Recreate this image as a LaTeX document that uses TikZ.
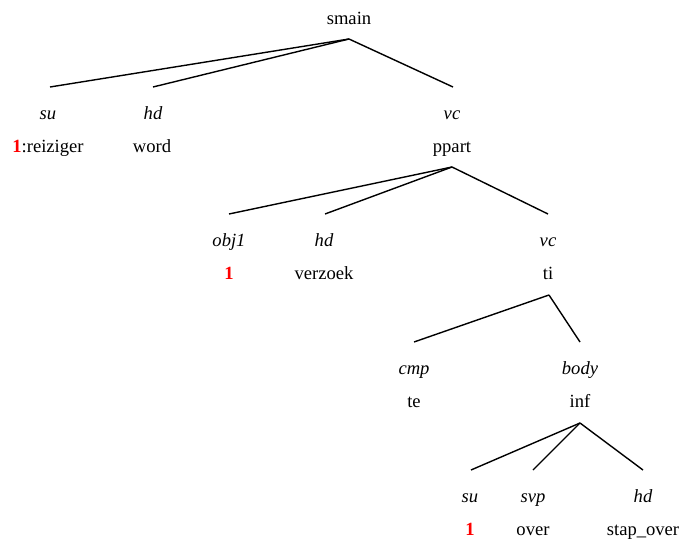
\documentclass[tikz,border=0pt]{standalone}
\usepackage{fontspec}
\setmainfont{Liberation Serif}
\newcommand{\coidx}[1]{\textcolor{red}{\textbf{#1}}}

\begin{document}
\begin{tikzpicture}[x=1pt, y=-1pt, line width=1.4pt,
    every node/.style={font=\fontsize{18.6}{21}\selectfont, inner sep=0pt, anchor=base},
    rel/.style={font=\fontsize{18.6}{21}\selectfont\itshape}]
  \useasboundingbox (0,0) rectangle (681,541);
  % top: smain
  \node (smain) at (349,24) {smain};
  \coordinate (smain-j) at (349,39);
  \coordinate (su-e) at (50,87);
  \coordinate (hd-e) at (153,87);
  \coordinate (vc-e) at (453,87);
  \node[rel] (su) at (48,119) {su};
  \node[rel] (hd) at (153,119) {hd};
  \node[rel] (vc) at (452,119) {vc};
  \node (reiziger) at (48,152) {\coidx{1}:reiziger};
  \node (word) at (152,152) {word};
  \node (ppart) at (452,152) {ppart};
  \draw (smain-j) -- (su-e);
  \draw (smain-j) -- (hd-e);
  \draw (smain-j) -- (vc-e);
  % ppart
  \coordinate (ppart-j) at (452,167);
  \coordinate (obj-e) at (229,214);
  \coordinate (hd2-e) at (325,214);
  \coordinate (vc2-e) at (548,214);
  \node[rel] (obj) at (229,246) {obj1};
  \node[rel] (hd2) at (324,246) {hd};
  \node[rel] (vc2) at (548,246) {vc};
  \node (one) at (229,279) {\coidx{1}};
  \node (verzoek) at (324,279) {verzoek};
  \node (ti) at (548,279) {ti};
  \draw (ppart-j) -- (obj-e);
  \draw (ppart-j) -- (hd2-e);
  \draw (ppart-j) -- (vc2-e);
  % ti
  \coordinate (ti-j) at (549,295);
  \coordinate (cmp-e) at (414,342);
  \coordinate (body-e) at (580,342);
  \node[rel] (cmp) at (414,374) {cmp};
  \node[rel] (body) at (580,374) {body};
  \node (te) at (414,407) {te};
  \node (inf) at (580,407) {inf};
  \draw (ti-j) -- (cmp-e);
  \draw (ti-j) -- (body-e);
  % inf
  \coordinate (inf-j) at (580,423);
  \coordinate (su2-e) at (471,470);
  \coordinate (svp-e) at (533,470);
  \coordinate (hd3-e) at (643,470);
  \node[rel] (su2) at (470,502) {su};
  \node[rel] (svp) at (533,502) {svp};
  \node[rel] (hd3) at (643,502) {hd};
  \node (one2) at (470,535) {\coidx{1}};
  \node (over) at (533,535) {over};
  \node (stapover) at (643,535) {stap\_over};
  \draw (inf-j) -- (su2-e);
  \draw (inf-j) -- (svp-e);
  \draw (inf-j) -- (hd3-e);
\end{tikzpicture}
\end{document}
